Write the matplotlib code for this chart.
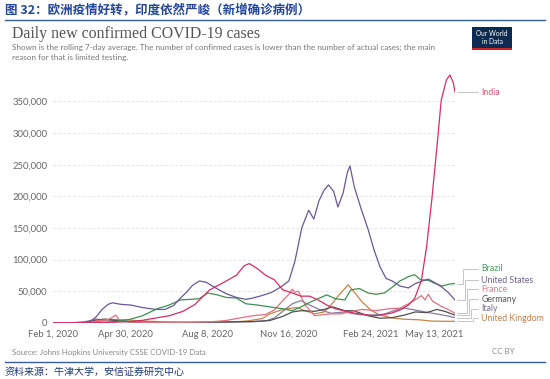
import matplotlib
matplotlib.use("Agg")
import matplotlib.pyplot as plt
import matplotlib.dates as mdates
import pandas as pd
from matplotlib.patches import Rectangle

# ---- data (7-day rolling average of daily confirmed cases) ----
india_dates = ['2020-02-01', '2020-03-15', '2020-04-01', '2020-04-15', '2020-05-01', '2020-05-15',
               '2020-06-01', '2020-06-15', '2020-07-01', '2020-07-15', '2020-08-01', '2020-08-15',
               '2020-09-01', '2020-09-10', '2020-09-16', '2020-09-25', '2020-10-05', '2020-10-15',
               '2020-10-25', '2020-11-05', '2020-11-15', '2020-11-25', '2020-12-05', '2020-12-15',
               '2020-12-25', '2021-01-05', '2021-01-15', '2021-02-01', '2021-02-10', '2021-02-20',
               '2021-03-01', '2021-03-10', '2021-03-20', '2021-03-27', '2021-04-04', '2021-04-10',
               '2021-04-16', '2021-04-22', '2021-04-27', '2021-05-03', '2021-05-07', '2021-05-11',
               '2021-05-13']
india = [0, 10, 300, 900, 1800, 3800,
         7800, 11000, 18000, 29000, 52000, 62000,
         75000, 90000, 93500, 86000, 75000, 68000,
         52000, 47000, 42000, 42000, 36000, 28000,
         22000, 18500, 15500, 12000, 11000, 13000,
         15500, 20000, 28000, 38000, 67000, 120000,
         194000, 278000, 352000, 384000, 392000, 380000,
         365000]

us_dates = ['2020-02-01', '2020-03-08', '2020-03-15', '2020-03-22', '2020-03-29', '2020-04-05',
            '2020-04-10', '2020-04-20', '2020-05-01', '2020-05-15', '2020-05-30', '2020-06-10',
            '2020-06-20', '2020-06-28', '2020-07-05', '2020-07-12', '2020-07-20', '2020-07-28',
            '2020-08-08', '2020-08-20', '2020-09-01', '2020-09-12', '2020-09-20', '2020-10-01',
            '2020-10-12', '2020-10-22', '2020-11-01', '2020-11-08', '2020-11-16', '2020-11-24',
            '2020-11-30', '2020-12-06', '2020-12-12', '2020-12-17', '2020-12-23', '2020-12-28',
            '2021-01-03', '2021-01-08', '2021-01-11', '2021-01-16', '2021-01-24', '2021-02-01',
            '2021-02-08', '2021-02-15', '2021-02-22', '2021-03-01', '2021-03-10', '2021-03-20',
            '2021-03-28', '2021-04-05', '2021-04-12', '2021-04-20', '2021-04-28', '2021-05-05',
            '2021-05-13']
us = [0, 100, 1500, 9000, 21000, 29000,
      31500, 29000, 28000, 24000, 21000, 21000,
      27000, 39000, 48000, 59000, 66000, 64000,
      55000, 46000, 40000, 37000, 39000, 43000,
      48000, 56000, 66000, 97000, 150000, 178000,
      164000, 193000, 210000, 218000, 208000, 183000,
      205000, 238000, 248000, 215000, 180000, 148000,
      115000, 88000, 70000, 66000, 58000, 55000,
      62000, 66000, 69000, 63000, 56000, 48000,
      36000]

brazil_dates = ['2020-02-01', '2020-03-15', '2020-04-01', '2020-04-15', '2020-05-01', '2020-05-15',
                '2020-06-01', '2020-06-15', '2020-06-28', '2020-07-10', '2020-07-20', '2020-07-30',
                '2020-08-10', '2020-08-20', '2020-09-01', '2020-09-12', '2020-09-25', '2020-10-05',
                '2020-10-15', '2020-10-25', '2020-11-05', '2020-11-15', '2020-11-25', '2020-12-05',
                '2020-12-15', '2020-12-25', '2021-01-05', '2021-01-12', '2021-01-22', '2021-02-01',
                '2021-02-10', '2021-02-20', '2021-03-01', '2021-03-10', '2021-03-20', '2021-03-27',
                '2021-04-03', '2021-04-12', '2021-04-20', '2021-04-28', '2021-05-06', '2021-05-13']
brazil = [0, 30, 800, 2000, 5500, 11000,
          22000, 28000, 36000, 37000, 38000, 47000,
          44000, 40000, 39000, 30000, 28000, 26000,
          24000, 22000, 19000, 25000, 32000, 38000,
          44000, 38000, 36000, 52000, 54000, 47000,
          45000, 47000, 56000, 66000, 73000, 76000,
          68000, 67000, 62000, 58000, 61000, 62000]

france_dates = ['2020-02-01', '2020-03-01', '2020-03-15', '2020-03-25', '2020-04-05', '2020-04-10',
                '2020-04-14', '2020-04-18', '2020-05-01', '2020-05-20', '2020-06-15', '2020-07-10',
                '2020-08-01', '2020-08-20', '2020-09-05', '2020-09-20', '2020-10-05', '2020-10-15',
                '2020-10-25', '2020-11-01', '2020-11-05', '2020-11-08', '2020-11-12', '2020-11-20',
                '2020-12-01', '2020-12-10', '2020-12-20', '2021-01-01', '2021-01-10', '2021-01-25',
                '2021-02-10', '2021-02-25', '2021-03-10', '2021-03-20', '2021-03-30', '2021-04-04',
                '2021-04-08', '2021-04-12', '2021-04-17', '2021-04-27', '2021-05-05', '2021-05-13']
france = [0, 30, 700, 3500, 5000, 8500,
          12000, 4000, 1200, 400, 400, 600,
          1200, 3500, 7500, 11000, 13000, 20000,
          35000, 45000, 53000, 48000, 50000, 28000,
          11000, 12500, 14000, 14000, 17000, 21000,
          19000, 22000, 23000, 30000, 38000, 43000,
          36000, 45000, 34000, 26000, 21000, 15000]

germany_dates = ['2020-02-01', '2020-03-08', '2020-03-20', '2020-04-01', '2020-04-15', '2020-05-01',
                 '2020-06-01', '2020-07-01', '2020-08-01', '2020-08-25', '2020-09-20', '2020-10-10',
                 '2020-10-25', '2020-11-05', '2020-11-15', '2020-12-01', '2020-12-12', '2020-12-22',
                 '2021-01-05', '2021-01-15', '2021-02-01', '2021-02-15', '2021-03-01', '2021-03-15',
                 '2021-03-28', '2021-04-10', '2021-04-22', '2021-05-01', '2021-05-13']
germany = [0, 150, 3500, 5800, 3500, 1200,
           400, 450, 800, 1300, 1800, 3500,
           10000, 17000, 19000, 18000, 21000, 25000,
           19000, 19000, 11000, 7000, 8000, 12000,
           17000, 16000, 21000, 18000, 12000]

italy_dates = ['2020-02-01', '2020-02-25', '2020-03-10', '2020-03-22', '2020-04-05', '2020-04-20',
               '2020-05-10', '2020-06-01', '2020-07-01', '2020-08-01', '2020-08-25', '2020-09-20',
               '2020-10-05', '2020-10-15', '2020-10-25', '2020-11-05', '2020-11-15', '2020-11-25',
               '2020-12-08', '2020-12-20', '2021-01-05', '2021-01-20', '2021-02-05', '2021-02-20',
               '2021-03-05', '2021-03-15', '2021-03-28', '2021-04-10', '2021-04-25', '2021-05-05',
               '2021-05-13']
italy = [0, 100, 1800, 5600, 4200, 3000,
         900, 350, 200, 300, 1100, 1600,
         2800, 7500, 18000, 30000, 35000, 28000,
         20000, 15000, 17000, 13000, 12000, 13500,
         20000, 23000, 20000, 16500, 13000, 10500,
         8000]

uk_dates = ['2020-02-01', '2020-03-05', '2020-03-20', '2020-04-05', '2020-04-12', '2020-04-25',
            '2020-05-15', '2020-06-10', '2020-07-10', '2020-08-10', '2020-09-01', '2020-09-15',
            '2020-10-01', '2020-10-10', '2020-10-25', '2020-11-10', '2020-11-20', '2020-12-01',
            '2020-12-12', '2020-12-20', '2020-12-30', '2021-01-09', '2021-01-15', '2021-01-25',
            '2021-02-05', '2021-02-15', '2021-03-01', '2021-03-15', '2021-04-01', '2021-04-15',
            '2021-05-01', '2021-05-13']
uk = [0, 30, 900, 4500, 5000, 4500,
      2800, 1200, 600, 900, 1400, 3000,
      6500, 14000, 21000, 24000, 19000, 14000,
      17000, 28000, 45000, 60000, 50000, 33000,
      19000, 12000, 7500, 5500, 4600, 2600,
      2200, 2300]

series = [
    ('United Kingdom', uk_dates, uk, '#c4854a'),
    ('Italy', italy_dates, italy, '#8a7b9c'),
    ('Germany', germany_dates, germany, '#4f4f4f'),
    ('France', france_dates, france, '#e0707f'),
    ('Brazil', brazil_dates, brazil, '#3d8f52'),
    ('United States', us_dates, us, '#6a5896'),
    ('India', india_dates, india, '#d62d64'),
]

# right-hand label placement (y in data units, purely layout)
label_y = {'India': 365000, 'Brazil': 85000, 'United States': 67500, 'France': 53000,
           'Germany': 37500, 'Italy': 21700, 'United Kingdom': 7400}
label_color = {'India': '#d8557d', 'Brazil': '#4e9a5e', 'United States': '#6e5f98',
               'France': '#e07a8a', 'Germany': '#555555', 'Italy': '#7d6f8e',
               'United Kingdom': '#c08050'}
elbow_x = {'India': 1.03, 'Brazil': 1.02, 'United States': 1.025, 'France': 1.03,
           'Germany': 1.035, 'Italy': 1.04, 'United Kingdom': 1.045}

tick_dates = ['2020-02-01', '2020-04-30', '2020-08-08', '2020-11-16', '2021-02-24', '2021-05-13']
tick_labels = ['Feb 1, 2020', 'Apr 30, 2020', 'Aug 8, 2020', 'Nov 16, 2020', 'Feb 24, 2021', 'May 13, 2021']
y_ticks = [0, 50000, 100000, 150000, 200000, 250000, 300000, 350000]

# ---- figure ----
fig = plt.figure(figsize=(5.5, 3.79), dpi=100)
W, H = 550, 379
ax = fig.add_axes([53 / W, 1 - 322.7 / H, 402 / W, 252.8 / H])

for name, d, v, c in series:
    ax.plot(pd.to_datetime(d), v, color=c, lw=0.9, solid_joinstyle='round')

start = mdates.date2num(pd.Timestamp('2020-02-01'))
end = mdates.date2num(pd.Timestamp('2021-05-13'))
ax.set_xlim(start, end)
ax.set_ylim(0, 400000)

# the source chart squeezes its date labels slightly to the left
squeeze = 0.816 / 0.861
ax.set_xticks([start + (mdates.date2num(pd.Timestamp(t)) - start) * squeeze for t in tick_dates])
ax.set_xticklabels(tick_labels, fontfamily='Lato', fontsize=6.8, color='#666666')
ax.set_yticks(y_ticks)
ax.set_yticklabels(['0' if t == 0 else f'{t:,}' for t in y_ticks],
                   fontfamily='Lato', fontsize=6.8, color='#666666')
ax.tick_params(length=0, pad=4)
ax.tick_params(axis='x', pad=5)
ax.grid(axis='y', color='#e6e6e6', lw=0.7, dashes=(3, 2))
ax.axhline(0, color='#bbbbbb', lw=0.8)
for s in ax.spines.values():
    s.set_visible(False)

# end labels with elbow connectors
trans = ax.get_yaxis_transform()
for name, d, v, c in series:
    y0 = v[-1]
    y1 = label_y[name]
    ex = elbow_x[name]
    ax.plot([1.005, ex, ex, 1.057], [y0, y0, y1, y1], transform=trans, color='#bbbbbb',
            lw=0.6, clip_on=False)
    ax.text(1.065, y1, name, transform=trans, va='center', ha='left',
            fontfamily='Lato', fontsize=6.3, color=label_color[name])

# ---- header / titles ----
fig.text(5 / W, 1 - 10 / H, '图 32：欧洲疫情好转，印度依然严峻（新增确诊病例）',
         fontfamily=['Noto Sans CJK SC', 'DejaVu Sans'], fontsize=9, fontweight='bold',
         color='#23469a', va='center', ha='left')
fig.add_artist(plt.Line2D([5 / W, 545 / W], [1 - 20 / H, 1 - 20 / H], color='#3a5a9a', lw=1.0))

fig.text(12 / W, 1 - 38 / H, 'Daily new confirmed COVID-19 cases',
         fontfamily='Liberation Serif', fontsize=11.4, color='#555555', va='baseline')
fig.text(12 / W, 1 - 50 / H,
         'Shown is the rolling 7-day average. The number of confirmed cases is lower than the number of actual cases; the main',
         fontfamily='Lato', fontsize=5.9, color='#777777', va='baseline')
fig.text(12 / W, 1 - 60 / H, 'reason for that is limited testing.',
         fontfamily='Lato', fontsize=5.9, color='#777777', va='baseline')

# OWID logo
fig.add_artist(Rectangle((472 / W, 1 - 48 / H), 40 / W, 21 / H, transform=fig.transFigure,
                         facecolor='#0d2a52', edgecolor='none'))
fig.add_artist(Rectangle((472 / W, 1 - 50 / H), 40 / W, 2 / H, transform=fig.transFigure,
                         facecolor='#ce261e', edgecolor='none'))
fig.text(492 / W, 1 - 37.5 / H, 'Our World\nin Data', fontfamily='Lato', fontsize=4.8,
         color='white', ha='center', va='center', linespacing=1.0)

# footer
fig.text(12 / W, 1 - 352 / H, 'Source: Johns Hopkins University CSSE COVID-19 Data',
         fontfamily='Lato', fontsize=5.7, color='#888888', va='center')
fig.text(515 / W, 1 - 352 / H, 'CC BY', fontfamily='Lato', fontsize=5.7, color='#888888',
         va='center', ha='right')
fig.add_artist(plt.Line2D([5 / W, 545 / W], [1 - 362 / H, 1 - 362 / H], color='#3a5a9a', lw=1.0))
fig.text(5 / W, 1 - 372 / H, '资料来源：牛津大学，安信证券研究中心',
         fontfamily=['Noto Sans CJK SC', 'DejaVu Sans'], fontsize=7.2, color='#1f3a70', va='center')

fig.savefig('out.png', dpi=100)
